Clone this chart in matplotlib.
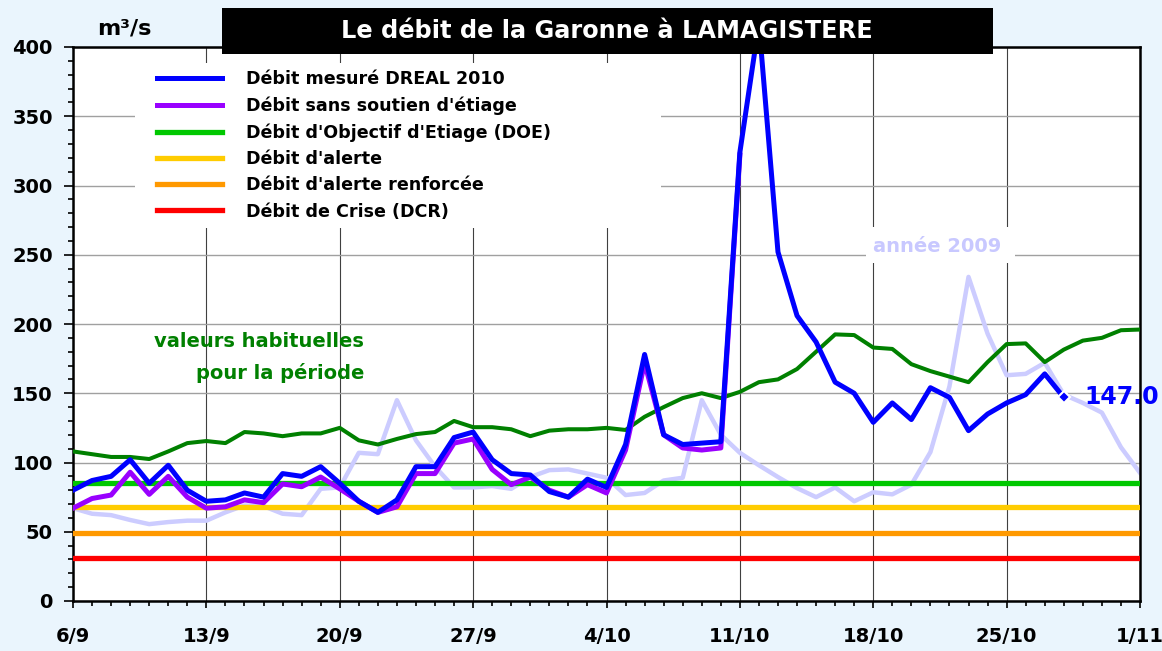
import matplotlib
matplotlib.use('Agg')
import matplotlib.pyplot as plt
from matplotlib.patches import Rectangle
from matplotlib.ticker import MultipleLocator
import numpy as np

plt.rcParams['font.family'] = ['DejaVu Sans']
plt.rcParams['font.weight'] = 'bold'

# ---------------- data ----------------
tick_positions = [0, 7, 14, 21, 28, 35, 42, 49, 56]
tick_labels = ['6/9', '13/9', '20/9', '27/9', '4/10', '11/10', '18/10', '25/10', '1/11']

debit_2010 = [80, 87, 90, 102, 85, 98, 80, 72, 73, 78,
              75, 92, 90, 97, 85, 72, 64, 73, 97, 97,
              118, 122, 102, 92, 91, 79, 75, 88, 82, 113,
              178, 120, 113, 114, 115, 324, 417, 252, 206, 187,
              158, 150, 129, 143, 131, 154, 147, 123, 135, 143,
              149, 164, 147]

sans_soutien = [67, 74, 76.5, 93, 77, 90, 75, 67, 68, 73,
                71, 84.5, 82.5, 89.5, 81, 72, 64, 68, 92, 92,
                114, 117, 95, 84, 89.5, 80, 75, 84, 78, 109,
                172, 120, 110.5, 109, 110.5, 322]

habituelles = [108, 106, 104, 104, 102.5, 108, 114, 115.5, 114, 122,
               121, 119, 121, 121, 125, 116, 113, 117, 120.5, 122,
               130, 125.5, 125.5, 124, 119, 123, 124, 124, 125, 123.5,
               133, 140, 146.5, 150, 146.5, 151, 158, 160, 167.5, 180,
               192.5, 192, 183, 182, 171, 166, 162, 158, 172.5, 185.5,
               186, 172.5, 181.5, 188, 190, 195.5, 196]

annee_2009 = [67, 63, 62, 58.5, 55.5, 57, 58, 58, 64, 69,
              68.5, 63, 62, 81, 82, 107, 106, 145, 116, 97,
              82, 82, 83, 81, 89.5, 94.5, 95, 92, 89, 76.5,
              78, 87, 89, 145, 120, 107, 98, 89.5, 81.5, 75,
              82, 72, 78.5, 77, 84, 107.5, 155, 234, 193, 163,
              164, 172, 149, 143, 136, 111, 92.5]

doe = 85
alerte = 68
alerte_renforcee = 49
crise = 31

legend_labels = ["Débit mesuré DREAL 2010", "Débit sans soutien d'étiage",
                 "Débit d'Objectif d'Etiage (DOE)", "Débit d'alerte",
                 "Débit d'alerte renforcée", "Débit de Crise (DCR)"]

# ---------------- figure ----------------
W, H = 1162, 651
fig = plt.figure(figsize=(W / 100, H / 100), dpi=100, facecolor='#EAF5FD')
L, R, T, B = 73, 1140, 47, 601
ax = fig.add_axes([L / W, 1 - B / H, (R - L) / W, (B - T) / H])
ax.set_facecolor('white')

x2010 = np.arange(len(debit_2010))
xss = np.arange(len(sans_soutien))
xhab = np.arange(len(habituelles))
x2009 = np.arange(len(annee_2009))

ax.plot(x2009, annee_2009, color='#CCCCFF', lw=3.2, zorder=2)
h_doe = ax.axhline(doe, color='#00C800', lw=3.8, zorder=3)
h_al = ax.axhline(alerte, color='#FFCC00', lw=3.8, zorder=3)
h_alr = ax.axhline(alerte_renforcee, color='#FF9900', lw=3.8, zorder=3)
h_cr = ax.axhline(crise, color='#FF0000', lw=3.8, zorder=3)
ax.plot(xhab, habituelles, color='#008000', lw=2.9, zorder=4)
h_ss, = ax.plot(xss, sans_soutien, color='#9900FF', lw=3.6, zorder=5)
h_2010, = ax.plot(x2010, debit_2010, color='#0000FF', lw=3.6, zorder=6)
ax.plot(x2010[-1:], debit_2010[-1:], marker='D', color='#0000FF', ms=6,
        mec='white', mew=1.5, ls='none', zorder=7)

ax.set_xlim(0, 56)
ax.set_ylim(0, 400)

ax.set_xticks(tick_positions)
ax.set_xticklabels(tick_labels)
ax.xaxis.set_minor_locator(MultipleLocator(1))
ax.set_yticks(range(0, 401, 50))
ax.yaxis.set_minor_locator(MultipleLocator(10))

ax.tick_params(axis='x', which='major', direction='out', length=5, width=1.2,
               pad=14, labelsize=14)
ax.tick_params(axis='x', which='minor', direction='out', length=3.6, width=1.2)
ax.tick_params(axis='y', which='major', direction='out', length=6.5, width=1.2,
               pad=8, labelsize=14)
ax.tick_params(axis='y', which='minor', direction='out', length=3.6, width=1.2)
for lab in ax.get_xticklabels() + ax.get_yticklabels():
    lab.set_fontweight('bold')

ax.set_axisbelow(True)
ax.yaxis.grid(True, which='major', color='#A0A0A0', lw=1.0)
ax.xaxis.grid(True, which='major', color='#404040', lw=0.8)

for s in ax.spines.values():
    s.set_linewidth(1.8)
    s.set_color('black')

# white boxes (legend background, label background)
ax.add_patch(Rectangle((0.0581, 0.6733), 0.4930, 0.2978, transform=ax.transAxes,
                       facecolor='white', edgecolor='none', zorder=1.5))
ax.add_patch(Rectangle((0.7432, 0.6101), 0.1397, 0.0650, transform=ax.transAxes,
                       facecolor='white', edgecolor='none', zorder=1.5))

ax.legend([h_2010, h_ss, h_doe, h_al, h_alr, h_cr], legend_labels,
          loc='upper left', bbox_to_anchor=(0.0784, 0.9576), frameon=False,
          prop={'size': 12.6, 'weight': 'bold'}, handlelength=3.74,
          handletextpad=1.36, labelspacing=0.47, borderpad=0, borderaxespad=0)

ax.text(53.06, 147, '147.0', color='#0000FF', fontsize=17, fontweight='bold',
        ha='left', va='center', clip_on=False, zorder=2)
ax.text(45.35, 256.3, 'année 2009', color='#C8C8FF', fontsize=14, fontweight='bold',
        ha='center', va='center', zorder=2)
ax.text(15.27, 187.3, 'valeurs habituelles', color='#008000', fontsize=14,
        fontweight='bold', ha='right', va='center', zorder=2)
ax.text(15.27, 164.4, 'pour la période', color='#008000', fontsize=14,
        fontweight='bold', ha='right', va='center', zorder=2)

# title box
fig.add_artist(Rectangle((222 / W, 1 - 54 / H), (993 - 222) / W, 46 / H,
                         transform=fig.transFigure, facecolor='black',
                         edgecolor='none', zorder=5))
fig.text(607 / W, 1 - 31 / H, 'Le débit de la Garonne à LAMAGISTERE', color='white',
         fontsize=17.3, fontweight='bold', ha='center', va='center', zorder=6)
fig.text(124 / W, 1 - 28 / H, 'm³/s', color='black', fontsize=16,
         fontweight='bold', ha='center', va='center')

fig.savefig('out.png', dpi=100, facecolor=fig.get_facecolor())
